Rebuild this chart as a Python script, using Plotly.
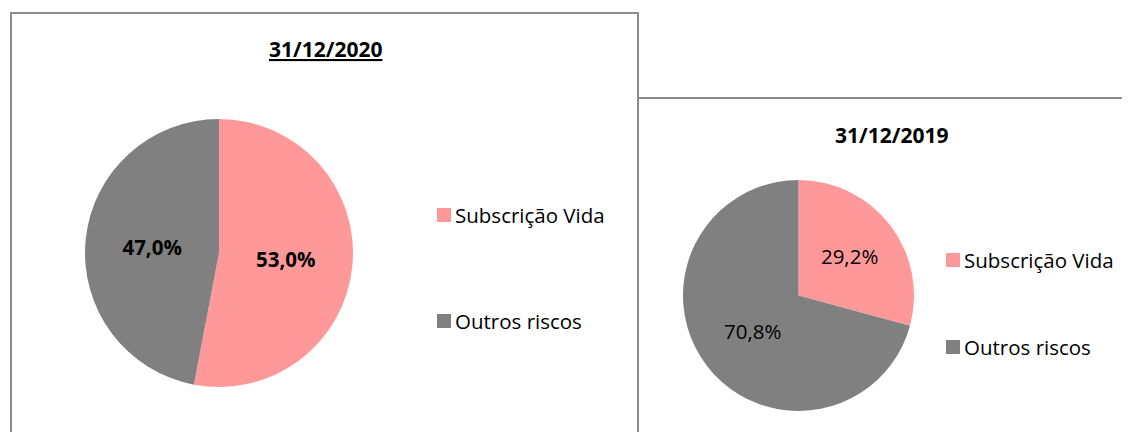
import plotly.graph_objects as go

labels = ["Subscrição Vida", "Outros riscos"]
values_2020 = [53.0, 47.0]
values_2019 = [29.2, 70.8]
titles = ["31/12/2020", "31/12/2019"]
colors = ["#FF9999", "#808080"]

# the page body has an 8px margin, so the figure is drawn 8px in from the corner
OFF = 8
W, H = 1130 - OFF, 432 - OFF
FONT = "Open Sans, sans-serif"


def px(x):
    return (x - OFF) / W


def py(y):
    return 1 - (y - OFF) / H


# window-pixel layout of each panel: pie box, title centre, legend rows
panels = [
    dict(values=values_2020, title="<u><b>%s</b></u>" % titles[0], bold=True,
         pie=(85, 119, 353, 387), title_xy=(325, 49),
         leg_x=437, leg_y=[215, 321]),
    dict(values=values_2019, title="<b>%s</b>" % titles[1], bold=False,
         pie=(683, 180, 914, 411), title_xy=(891, 135),
         leg_x=946, leg_y=[260, 347]),
]

fig = go.Figure()
shapes = []
annotations = []

for p in panels:
    x0, y0, x1, y1 = p["pie"]
    tmpl = "<b>%{value:.1f}%</b>" if p["bold"] else "%{value:.1f}%"
    fig.add_trace(go.Pie(
        labels=labels,
        values=p["values"],
        marker=dict(colors=colors, line=dict(width=0)),
        sort=False,
        direction="clockwise",
        rotation=0,
        texttemplate=tmpl,
        textposition="inside",
        insidetextorientation="horizontal",
        textfont=dict(family=FONT, size=20.5, color="black"),
        hoverinfo="skip",
        showlegend=False,
        domain=dict(x=[px(x0), px(x1)], y=[py(y1), py(y0)]),
    ))

    tx, ty = p["title_xy"]
    annotations.append(dict(
        x=px(tx), y=py(ty), xref="paper", yref="paper",
        text=p["title"], showarrow=False,
        font=dict(family=FONT, size=21, color="black"),
        xanchor="center", yanchor="middle",
    ))

    for lab, col, ly in zip(labels, colors, p["leg_y"]):
        lx = p["leg_x"]
        shapes.append(dict(
            type="rect", xref="paper", yref="paper",
            x0=px(lx), x1=px(lx + 14), y0=py(ly + 7), y1=py(ly - 7),
            fillcolor=col, line=dict(width=0),
        ))
        annotations.append(dict(
            x=px(lx + 16), y=py(ly), xref="paper", yref="paper",
            text=lab, showarrow=False,
            font=dict(family=FONT, size=20.5, color="black"),
            xanchor="left", yanchor="middle",
        ))

# panel borders
border = dict(color="#8c8c8c", width=2)
shapes.append(dict(type="rect", xref="paper", yref="paper",
                   x0=px(11), x1=px(638), y0=py(445), y1=py(13),
                   line=border, fillcolor="rgba(0,0,0,0)"))
shapes.append(dict(type="rect", xref="paper", yref="paper",
                   x0=px(638), x1=px(1140), y0=py(445), y1=py(98),
                   line=border, fillcolor="rgba(0,0,0,0)"))

fig.update_layout(
    width=W, height=H,
    margin=dict(l=0, r=0, t=0, b=0),
    paper_bgcolor="white",
    plot_bgcolor="white",
    separators=",.",
    shapes=shapes,
    annotations=annotations,
    font=dict(family=FONT),
)

fig.write_html("out.html")
